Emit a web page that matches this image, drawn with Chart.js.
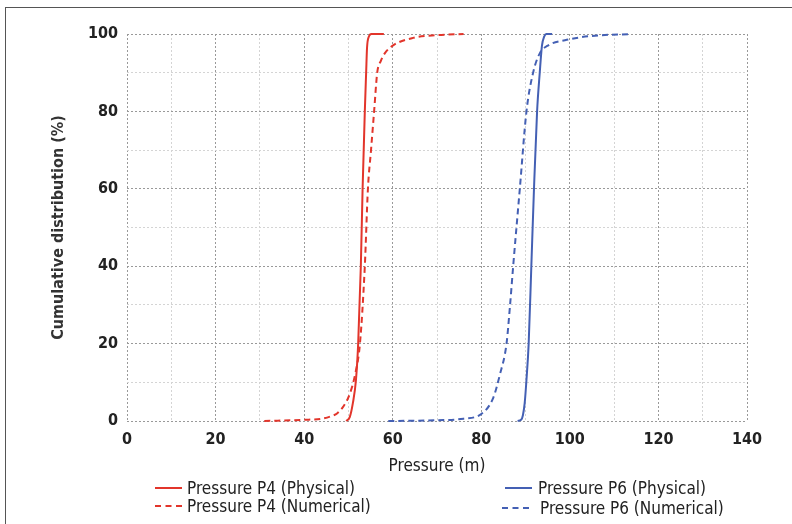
<!DOCTYPE html>
<html>
<head>
<meta charset="utf-8">
<script src="https://cdn.jsdelivr.net/npm/chart.js@4.4.1/dist/chart.umd.min.js"></script>
<style>
html, body { margin: 0; padding: 0; background: #fff; }
#wrap { position: relative; width: 792px; height: 524px; overflow: hidden;
  font-family: 'Liberation Sans Narrow', 'DejaVu Sans Condensed', sans-serif; }
#frame { position: absolute; left: 5px; top: 7px; width: 800px; height: 540px;
  border-left: 1.5px solid #555; border-top: 1.5px solid #555; }
canvas { position: absolute; left: 0; top: 0; }
.sw { position: absolute; width: 27px; height: 0; }
.lt { position: absolute; font-size: 17px; color: #222; white-space: nowrap; line-height: 20px; }
</style>
</head>
<body>
<div id="wrap">
  <div id="frame"></div>
  <canvas id="chart" width="792" height="524"></canvas>

  <div class="sw" style="left:155px;top:487px;border-top:2px solid #e2352b"></div>
  <div class="lt" style="left:187px;top:478px">Pressure P4 (Physical)</div>
  <div class="sw" style="left:155px;top:505px;border-top:2px dashed #e2352b"></div>
  <div class="lt" style="left:187px;top:496px">Pressure P4 (Numerical)</div>

  <div class="sw" style="left:505px;top:487px;border-top:2px solid #4460b4"></div>
  <div class="lt" style="left:538px;top:478px">Pressure P6 (Physical)</div>
  <div class="sw" style="left:502px;top:507px;border-top:2px dashed #4460b4"></div>
  <div class="lt" style="left:540px;top:498px">Pressure P6 (Numerical)</div>
</div>
<script>
// values: pressure (m) vs cumulative distribution (%)
const p4PhysX = [49.5, 50.3, 51, 51.7, 52.2, 52.8, 53.2, 53.7, 54, 54.2, 54.6, 55.2, 58];
const p4PhysY = [0, 1, 4.6, 10.6, 20, 40, 60, 80, 90, 96.4, 99.3, 100, 100];

const p4NumX = [31, 40, 44, 46, 47.5, 49, 50.3, 51.5, 52.6, 53.7, 54.4, 55.1, 55.8, 56.5, 57.3, 58.2, 60, 64.6, 70, 76];
const p4NumY = [0, 0.3, 0.6, 1.2, 2, 4, 7, 12, 20, 40, 60, 70, 80, 90, 93, 95, 97, 99, 99.7, 100];

const p6PhysX = [88.2, 89, 89.4, 89.8, 90.2, 90.7, 91.3, 91.9, 92.6, 93.2, 93.7, 94.2, 94.7, 96];
const p6PhysY = [0, 0.3, 1.5, 4.6, 10.6, 20, 40, 60, 80, 90, 97, 99.3, 100, 100];

const p6NumX = [59, 70, 76, 80, 82.7, 84.2, 85.7, 86.5, 87.2, 88.7, 90.2, 91.7, 93.2, 95, 99.3, 105, 114];
const p6NumY = [0, 0.2, 0.6, 1.8, 6, 12, 20, 30, 40, 60, 80, 90, 95, 97, 98.5, 99.5, 100];

const xTicks = [0, 20, 40, 60, 80, 100, 120, 140];
const yTicks = [0, 20, 40, 60, 80, 100];

const pts = (xs, ys) => xs.map((x, i) => ({ x: x, y: ys[i] }));

const red = '#e2352b';
const blue = '#4460b4';
const fontFam = "'Liberation Sans Narrow', 'DejaVu Sans Condensed', sans-serif";

function line(label, xs, ys, color, dashed) {
    return {
        label: label,
        data: pts(xs, ys),
        borderColor: color,
        borderWidth: 2,
        borderDash: dashed ? [6, 4] : [],
        pointRadius: 0,
        cubicInterpolationMode: 'monotone',
        fill: false,
        clip: 6
    };
}

const gridColor = (ctx) => ctx.tick && ctx.tick.value % 20 === 0 ? '#999999' : '#d4d4d4';

new Chart(document.getElementById('chart'), {
    type: 'line',
    data: {
        datasets: [
            line('Pressure P4 (Physical)', p4PhysX, p4PhysY, red, false),
            line('Pressure P4 (Numerical)', p4NumX, p4NumY, red, true),
            line('Pressure P6 (Physical)', p6PhysX, p6PhysY, blue, false),
            line('Pressure P6 (Numerical)', p6NumX, p6NumY, blue, true)
        ]
    },
    options: {
        responsive: false,
        animation: false,
        layout: { padding: { left: 45, right: 45, top: 34, bottom: 43 } },
        scales: {
            x: {
                type: 'linear',
                min: 0,
                max: 140,
                afterFit: (s) => { s.height = 60; },
                grid: { color: gridColor, lineWidth: 1, drawTicks: false },
                border: { display: false, dash: [2, 2] },
                ticks: {
                    stepSize: 10,
                    padding: 9,
                    color: '#222',
                    font: { family: fontFam, size: 16, weight: 'bold' },
                    callback: (v) => xTicks.includes(v) ? v : ''
                },
                title: {
                    display: true,
                    text: 'Pressure (m)',
                    color: '#222',
                    font: { family: fontFam, size: 17 },
                    padding: { top: 4, bottom: 4 }
                }
            },
            y: {
                min: 0,
                max: 100,
                afterFit: (s) => { s.width = 82; },
                grid: { color: gridColor, lineWidth: 1, drawTicks: false },
                border: { display: false, dash: [2, 2] },
                ticks: {
                    stepSize: 10,
                    padding: 9,
                    color: '#222',
                    font: { family: fontFam, size: 16, weight: 'bold' },
                    callback: (v) => yTicks.includes(v) ? v : ''
                },
                title: {
                    display: true,
                    text: 'Cumulative distribution (%)',
                    color: '#333',
                    font: { family: fontFam, size: 16, weight: 'bold' },
                    padding: { top: 4, bottom: 4 }
                }
            }
        },
        plugins: {
            legend: { display: false },
            tooltip: { enabled: false }
        }
    }
});
</script>
</body>
</html>
